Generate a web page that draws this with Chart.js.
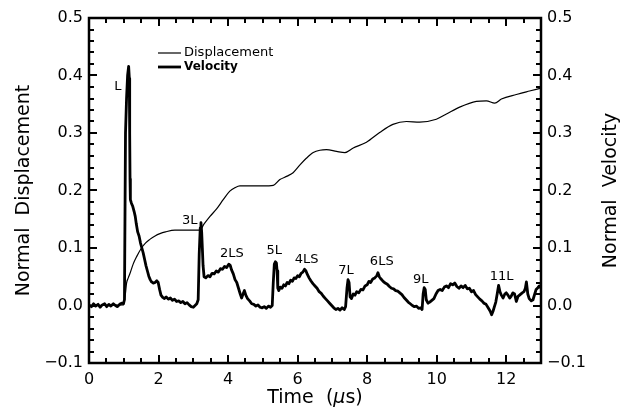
<!DOCTYPE html>
<html>
<head>
<meta charset="utf-8">
<script src="https://cdn.jsdelivr.net/npm/chart.js@4/dist/chart.umd.min.js"></script>
<style>
  html, body { margin: 0; padding: 0; background: #fff; }
  #wrap { width: 628px; height: 417px; }
</style>
</head>
<body>
<div id="wrap"><canvas id="surface-chart"></canvas></div>
<script>
// Normal velocity record (µs, normalised)
const velTime = [
    0.00, 0.07, 0.13, 0.19, 0.26, 0.32, 0.38, 0.45,
    0.51, 0.57, 0.63, 0.70, 0.76, 0.82, 0.88, 0.94,
    0.99, 1.02, 1.05, 1.08, 1.11, 1.14, 1.16, 1.17,
    1.18, 1.19, 1.22, 1.26, 1.30, 1.33, 1.36, 1.40,
    1.44, 1.48, 1.52, 1.56, 1.60, 1.64, 1.68, 1.72,
    1.76, 1.80, 1.85, 1.90, 1.95, 1.99, 2.03, 2.07,
    2.12, 2.17, 2.22, 2.28, 2.34, 2.40, 2.46, 2.52,
    2.58, 2.64, 2.70, 2.76, 2.82, 2.88, 2.94, 3.00,
    3.05, 3.10, 3.14, 3.17, 3.20, 3.22, 3.24, 3.26,
    3.28, 3.31, 3.36, 3.42, 3.48, 3.54, 3.60, 3.66,
    3.72, 3.78, 3.84, 3.90, 3.96, 4.02, 4.06, 4.10,
    4.15, 4.20, 4.25, 4.30, 4.35, 4.39, 4.43, 4.47,
    4.51, 4.56, 4.62, 4.68, 4.74, 4.80, 4.86, 4.92,
    4.98, 5.04, 5.10, 5.16, 5.22, 5.27, 5.30, 5.33,
    5.36, 5.39, 5.41, 5.43, 5.46, 5.50, 5.55, 5.60,
    5.65, 5.70, 5.75, 5.80, 5.85, 5.90, 5.95, 6.00,
    6.05, 6.10, 6.15, 6.20, 6.24, 6.28, 6.33, 6.38,
    6.44, 6.50, 6.56, 6.62, 6.68, 6.74, 6.80, 6.86,
    6.92, 6.98, 7.04, 7.10, 7.16, 7.22, 7.28, 7.34,
    7.38, 7.42, 7.45, 7.48, 7.51, 7.55, 7.60, 7.65,
    7.70, 7.76, 7.82, 7.88, 7.94, 8.00, 8.05, 8.10,
    8.16, 8.22, 8.28, 8.31, 8.35, 8.40, 8.46, 8.52,
    8.58, 8.64, 8.70, 8.76, 8.82, 8.88, 8.94, 9.00,
    9.06, 9.12, 9.18, 9.24, 9.30, 9.36, 9.42, 9.48,
    9.54, 9.58, 9.61, 9.64, 9.67, 9.70, 9.75, 9.80,
    9.86, 9.92, 9.98, 10.04, 10.10, 10.16, 10.22, 10.28,
    10.34, 10.40, 10.46, 10.52, 10.58, 10.64, 10.70, 10.76,
    10.82, 10.88, 10.94, 11.00, 11.06, 11.12, 11.18, 11.24,
    11.30, 11.36, 11.42, 11.48, 11.54, 11.58, 11.62, 11.66,
    11.70, 11.74, 11.78, 11.82, 11.86, 11.91, 11.96, 12.00,
    12.05, 12.10, 12.14, 12.19, 12.24, 12.29, 12.34, 12.40,
    12.46, 12.51, 12.55, 12.58, 12.62, 12.66, 12.72, 12.77,
    12.82, 12.86, 12.91, 12.95, 13.00
];
const velValue = [
    0.001, -0.002, 0.003, -0.001, 0.002, -0.003, 0.001, 0.003,
    -0.002, 0.002, -0.001, 0.003, 0.000, -0.002, 0.002, 0.004,
    0.003, 0.010, 0.300, 0.360, 0.400, 0.416, 0.395, 0.300,
    0.220, 0.184, 0.178, 0.172, 0.163, 0.155, 0.142, 0.128,
    0.121, 0.109, 0.100, 0.091, 0.080, 0.069, 0.060, 0.051,
    0.045, 0.041, 0.039, 0.040, 0.043, 0.040, 0.028, 0.018,
    0.014, 0.012, 0.015, 0.011, 0.013, 0.009, 0.011, 0.007,
    0.008, 0.005, 0.007, 0.003, 0.005, 0.001, -0.002, -0.003,
    0.000, 0.003, 0.010, 0.090, 0.135, 0.144, 0.128, 0.100,
    0.070, 0.050, 0.048, 0.052, 0.050, 0.056, 0.055, 0.060,
    0.058, 0.064, 0.063, 0.068, 0.066, 0.072, 0.070, 0.062,
    0.055, 0.045, 0.040, 0.030, 0.020, 0.013, 0.020, 0.026,
    0.018, 0.012, 0.008, 0.003, 0.002, -0.001, 0.001, -0.003,
    -0.004, -0.002, -0.005, -0.001, -0.003, 0.000, 0.040, 0.072,
    0.076, 0.074, 0.060, 0.030, 0.026, 0.032, 0.030, 0.036,
    0.034, 0.040, 0.038, 0.044, 0.042, 0.048, 0.047, 0.052,
    0.050, 0.056, 0.058, 0.063, 0.060, 0.054, 0.048, 0.043,
    0.038, 0.034, 0.030, 0.024, 0.021, 0.016, 0.012, 0.008,
    0.004, 0.000, -0.004, -0.007, -0.005, -0.008, -0.004, -0.007,
    -0.002, 0.030, 0.045, 0.040, 0.015, 0.012, 0.020, 0.018,
    0.024, 0.022, 0.028, 0.027, 0.034, 0.036, 0.042, 0.040,
    0.046, 0.048, 0.052, 0.057, 0.050, 0.046, 0.042, 0.039,
    0.037, 0.033, 0.030, 0.029, 0.026, 0.025, 0.022, 0.019,
    0.014, 0.010, 0.006, 0.003, 0.000, -0.002, -0.001, -0.005,
    -0.004, -0.007, 0.020, 0.031, 0.028, 0.010, 0.004, 0.006,
    0.009, 0.012, 0.020, 0.026, 0.028, 0.026, 0.032, 0.034,
    0.031, 0.038, 0.036, 0.039, 0.033, 0.030, 0.034, 0.031,
    0.035, 0.029, 0.030, 0.024, 0.026, 0.019, 0.015, 0.011,
    0.008, 0.004, 0.002, -0.004, -0.010, -0.016, -0.010, -0.002,
    0.006, 0.020, 0.035, 0.024, 0.018, 0.013, 0.020, 0.022,
    0.018, 0.013, 0.016, 0.022, 0.020, 0.007, 0.016, 0.019,
    0.022, 0.024, 0.030, 0.041, 0.020, 0.012, 0.008, 0.010,
    0.020, 0.028, 0.031, 0.034, 0.030
];

// Normal displacement record
const dispTime = [
    0.00, 0.99, 1.02, 1.05, 1.08, 1.13, 1.18, 1.27, 1.37, 1.51, 1.63,
    1.75, 1.90, 2.04, 2.20, 2.47, 2.70, 3.00, 3.19, 3.30, 3.48, 3.67,
    3.86, 4.05, 4.20, 4.34, 4.60, 5.00, 5.30, 5.49, 5.70, 5.87, 6.06,
    6.25, 6.45, 6.64, 6.83, 7.12, 7.36, 7.60, 7.98, 8.36, 8.74, 9.13,
    9.51, 9.99, 10.28, 10.66, 11.14, 11.43, 11.67, 11.86, 12.29, 12.67, 13.00
];
const dispValue = [
    0.000, 0.001, 0.010, 0.022, 0.039, 0.048, 0.056, 0.072, 0.085, 0.100, 0.109,
    0.115, 0.121, 0.125, 0.128, 0.131, 0.131, 0.131, 0.131, 0.141, 0.155, 0.168,
    0.184, 0.199, 0.205, 0.208, 0.208, 0.208, 0.209, 0.219, 0.225, 0.231, 0.244,
    0.256, 0.266, 0.270, 0.271, 0.268, 0.266, 0.274, 0.284, 0.301, 0.315, 0.320,
    0.319, 0.324, 0.333, 0.345, 0.355, 0.356, 0.352, 0.359, 0.367, 0.373, 0.378
];

// Wave arrival labels and where they sit (time, velocity level)
const peakLabels = ['L', '3L', '2LS', '5L', '4LS', '7L', '6LS', '9L', '11L'];
const peakTime = [0.83, 2.90, 4.11, 5.33, 6.26, 7.39, 8.42, 9.54, 11.87];
const peakLevel = [0.381, 0.148, 0.090, 0.095, 0.080, 0.061, 0.076, 0.045, 0.050];

const FONT = '"DejaVu Sans", sans-serif';

Chart.defaults.font.family = FONT;
Chart.defaults.color = '#000';

const toPoints = (xs, ys) => xs.map((x, i) => ({ x: x, y: ys[i] }));

const tickLabel = (value) => {
    const r = Math.round(value * 10) / 10;
    return (r < 0 ? '\u2212' : '') + Math.abs(r).toFixed(1);
};

/**
 * Frame, inward tick marks, axis titles, legend and wave labels
 */
const decorations = {
    id: 'decorations',
    afterDatasetsDraw(chart) {
        const { ctx, chartArea: a, scales } = chart;
        const xs = scales.x;
        const ys = scales.y;
        ctx.save();
        ctx.strokeStyle = '#000';
        ctx.fillStyle = '#000';

        // tick marks on all four sides
        ctx.lineWidth = 2;
        ctx.beginPath();
        for (let i = 1; i < 26; i++) {
            const px = Math.round(xs.getPixelForValue(i / 2));
            const len = i % 4 === 0 ? 8 : 5;
            ctx.moveTo(px, a.bottom); ctx.lineTo(px, a.bottom - len);
            ctx.moveTo(px, a.top); ctx.lineTo(px, a.top + len);
        }
        for (let i = -4; i < 25; i++) {
            const py = Math.round(ys.getPixelForValue(i / 50));
            const len = i % 5 === 0 ? 8 : 5;
            ctx.moveTo(a.left, py); ctx.lineTo(a.left + len, py);
            ctx.moveTo(a.right, py); ctx.lineTo(a.right - len, py);
        }
        ctx.stroke();

        ctx.lineWidth = 2.5;
        ctx.strokeRect(a.left, a.top, a.width, a.height);

        // axis titles
        const midY = (a.top + a.bottom) / 2;
        ctx.font = '19px ' + FONT;
        ctx.textAlign = 'center';
        ctx.textBaseline = 'middle';
        ctx.save();
        ctx.translate(24, midY);
        ctx.rotate(-Math.PI / 2);
        ctx.fillText('Normal  Displacement', 0, 0);
        ctx.restore();
        ctx.save();
        ctx.translate(611, midY);
        ctx.rotate(-Math.PI / 2);
        ctx.fillText('Normal  Velocity', 0, 0);
        ctx.restore();

        const parts = [['Time  (', '19px '], ['\u03bc', 'italic 19px '], ['s)', '19px ']];
        let total = 0;
        parts.forEach(([t, f]) => { ctx.font = f + FONT; total += ctx.measureText(t).width; });
        let tx = (a.left + a.right) / 2 - total / 2;
        ctx.textAlign = 'left';
        parts.forEach(([t, f]) => {
            ctx.font = f + FONT;
            ctx.fillText(t, tx, 398);
            tx += ctx.measureText(t).width;
        });

        // legend
        const lx = a.left + 69;
        chart.data.datasets.forEach((ds, i) => {
            const ly = a.top + 35 + i * 14;
            ctx.lineWidth = ds.borderWidth;
            ctx.beginPath();
            ctx.moveTo(lx, ly);
            ctx.lineTo(lx + 23, ly);
            ctx.stroke();
            ctx.font = (i === 1 ? 'bold 12px ' : '13px ') + FONT;
            ctx.fillText(ds.label, lx + 26, ly);
        });

        // wave arrival labels
        ctx.font = '13px ' + FONT;
        ctx.textAlign = 'center';
        peakLabels.forEach((name, i) => {
            const px = xs.getPixelForValue(peakTime[i]);
            const py = scales.y1.getPixelForValue(peakLevel[i]);
            ctx.fillText(name, px, py);
        });
        ctx.restore();
    }
};

const yScale = (position, width) => ({
    type: 'linear',
    position: position,
    min: -0.1,
    max: 0.5,
    grid: { display: false, drawTicks: false },
    border: { display: false },
    ticks: {
        stepSize: 0.1,
        autoSkip: false,
        padding: 6,
        font: { size: 16 },
        callback: tickLabel,
    },
    afterFit: (scale) => { scale.width = width; },
});

const drawSurfaceChart = () => {
    const element = document.getElementById('surface-chart');
    const config = {
        type: 'line',
        data: {
            datasets: [
                {
                    label: 'Displacement',
                    data: toPoints(dispTime, dispValue),
                    yAxisID: 'y',
                    borderColor: '#000',
                    borderWidth: 1.2,
                    pointRadius: 0,
                    cubicInterpolationMode: 'monotone',
                },
                {
                    label: 'Velocity',
                    data: toPoints(velTime, velValue),
                    yAxisID: 'y1',
                    borderColor: '#000',
                    borderWidth: 2.8,
                    borderJoinStyle: 'round',
                    pointRadius: 0,
                    tension: 0,
                },
            ],
        },
        options: {
            responsive: true,
            maintainAspectRatio: false,
            animation: false,
            layout: { padding: { top: 18, left: 0, right: 0, bottom: 0 } },
            plugins: {
                legend: { display: false },
                tooltip: { enabled: false },
            },
            scales: {
                x: {
                    type: 'linear',
                    min: 0,
                    max: 13,
                    grid: { display: false, drawTicks: false },
                    border: { display: false },
                    ticks: {
                        stepSize: 2,
                        includeBounds: false,
                        autoSkip: false,
                        maxRotation: 0,
                        padding: 7,
                        font: { size: 16 },
                    },
                    afterFit: (scale) => { scale.height = 54; },
                },
                y: yScale('left', 89),
                y1: yScale('right', 87),
            },
        },
        plugins: [decorations],
    };
    return new Chart(element, config);
};

drawSurfaceChart();
</script>
</body>
</html>
